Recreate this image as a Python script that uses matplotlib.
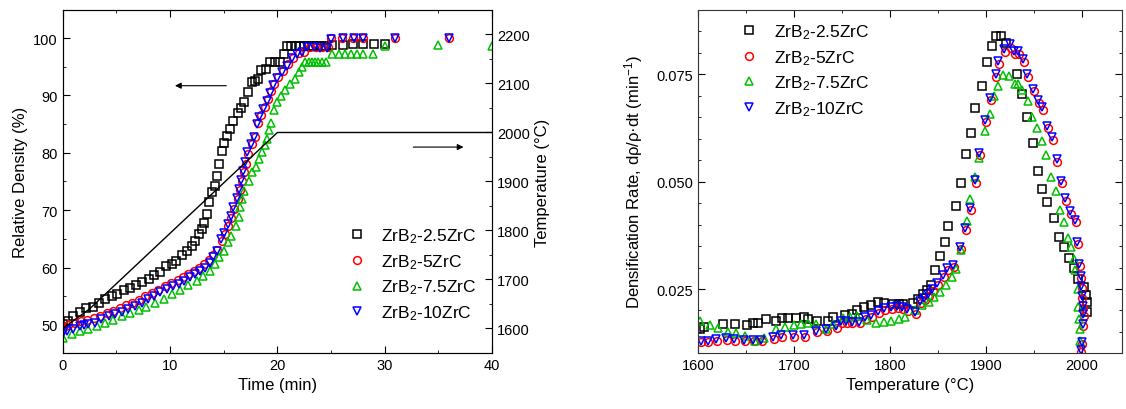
import numpy as np
import matplotlib
matplotlib.use("Agg")
import matplotlib.pyplot as plt
from matplotlib.ticker import MultipleLocator

plt.rcParams['font.family'] = ['Liberation Sans', 'DejaVu Sans']
plt.rcParams['mathtext.fontset'] = 'custom'
plt.rcParams['mathtext.rm'] = 'Liberation Sans'
plt.rcParams['mathtext.it'] = 'Liberation Sans:italic'

labels = ["ZrB$_2$-2.5ZrC", "ZrB$_2$-5ZrC", "ZrB$_2$-7.5ZrC", "ZrB$_2$-10ZrC"]
colors = ["#000000", "#ff0000", "#00c000", "#0000ff"]
markers = ["s", "o", "^", "v"]

# relative density (%) vs time (min)
t_25 = [0.0, 0.5, 1.0, 1.6, 2.2, 2.8, 3.4, 3.9, 4.6, 5.1, 5.7, 6.3, 6.8, 7.4, 8.0, 8.5, 9.1, 9.6, 10.2, 10.6,
        11.1, 11.6, 12.0, 12.3, 12.7, 13.0, 13.2, 13.4, 13.6, 13.9, 14.2, 14.4, 14.6, 14.8, 15.0, 15.3, 15.6, 15.9,
        16.3, 16.6, 16.9, 17.3, 17.6, 17.9, 18.2, 18.5, 18.9, 19.3, 19.8, 20.2, 20.6, 20.9, 21.3, 21.7, 22.1, 22.5,
        22.9, 23.3, 23.7, 24.1, 24.5, 25.1, 26.1, 27.0, 28.0, 29.0, 30.0]
d_25 = [50.1, 50.7, 51.6, 52.3, 52.9, 53.2, 53.8, 54.5, 55.0, 55.4, 56.0, 56.4, 57.0, 57.5, 58.0, 58.7, 59.2, 60.3, 60.6, 61.2,
        62.1, 62.9, 63.8, 64.7, 65.8, 66.7, 67.8, 69.3, 71.4, 73.1, 74.2, 76.0, 78.1, 80.3, 81.7, 82.9, 84.1, 85.6,
        86.9, 87.8, 88.8, 90.6, 92.3, 92.6, 92.9, 94.5, 94.6, 95.8, 95.8, 95.8, 97.3, 98.6, 98.6, 98.7, 98.7, 98.7,
        98.7, 98.7, 98.7, 98.7, 98.7, 98.8, 98.8, 98.9, 98.9, 98.9, 98.9]

t_5 = [0.0, 0.5, 1.1, 1.7, 2.3, 2.9, 3.5, 4.1, 4.7, 5.3, 5.9, 6.5, 7.1, 7.7, 8.3, 8.9, 9.5, 10.1, 10.7, 11.2,
       11.7, 12.2, 12.7, 13.2, 13.6, 14.0, 14.4, 14.8, 15.1, 15.4, 15.7, 16.0, 16.3, 16.5, 16.7, 16.9, 17.1, 17.3,
       17.6, 17.9, 18.2, 18.5, 18.8, 19.1, 19.4, 19.7, 20.1, 20.5, 21.0, 21.5, 22.0, 22.5, 23.0, 23.6, 24.2, 24.7,
       25.0, 26.0, 27.0, 28.0, 31.0, 36.0]
d_5 = [49.5, 49.9, 50.3, 50.6, 50.9, 51.2, 51.6, 52.1, 52.5, 52.9, 53.4, 53.9, 54.4, 55.0, 55.6, 56.1, 56.7, 57.3, 57.8, 58.3,
       58.8, 59.4, 60.0, 60.6, 61.3, 62.1, 63.1, 64.6, 65.9, 67.2, 68.6, 70.2, 71.9, 73.5, 75.0, 76.6, 78.1, 79.8,
       81.6, 82.8, 85.2, 86.6, 88.0, 89.4, 90.8, 92.0, 93.2, 94.3, 95.4, 96.6, 97.4, 97.6, 98.5, 98.5, 98.4, 98.4,
       100.0, 100.0, 100.0, 100.0, 100.1, 100.1]

t_75 = [0.0, 0.9, 1.6, 2.4, 3.2, 3.9, 4.7, 5.5, 6.3, 7.1, 7.8, 8.6, 9.4, 10.2, 10.9, 11.7, 12.5, 13.1, 13.7, 14.2,
        14.6, 15.0, 15.4, 15.7, 16.1, 16.4, 16.5, 16.7, 16.9, 17.4, 17.6, 18.0, 18.3, 18.6, 18.8, 19.0, 19.2, 19.4,
        19.7, 20.0, 20.3, 20.7, 21.2, 21.6, 22.0, 22.3, 22.6, 22.9, 23.2, 23.5, 23.8, 24.2, 24.5, 25.1, 25.7, 26.3,
        26.9, 27.4, 28.0, 28.9, 30.0, 35.0, 40.0]
d_75 = [47.8, 48.4, 49.0, 49.3, 49.8, 50.3, 50.9, 51.5, 52.1, 52.6, 53.2, 53.9, 54.6, 55.4, 56.1, 56.9, 57.7, 58.5, 59.4, 60.6,
        61.8, 62.9, 64.4, 65.5, 67.3, 68.8, 70.5, 72.0, 73.4, 75.1, 76.6, 77.5, 78.9, 80.1, 81.3, 82.4, 83.9, 85.2,
        87.5, 88.8, 89.9, 90.9, 92.0, 92.9, 94.1, 94.9, 95.8, 95.8, 95.8, 95.8, 95.8, 95.8, 95.8, 97.3, 97.3, 97.3,
        97.3, 97.3, 97.3, 97.3, 98.6, 98.8, 98.7]

t_10 = [0.0, 0.4, 1.0, 1.6, 2.0, 2.4, 3.0, 3.6, 4.3, 4.9, 5.5, 6.1, 6.7, 7.4, 7.9, 8.5, 9.1, 9.7, 10.3, 10.8,
        11.3, 11.9, 12.3, 12.8, 13.3, 13.7, 14.0, 14.4, 14.7, 15.0, 15.4, 15.7, 15.9, 16.2, 16.4, 16.6, 16.8, 17.0,
        17.2, 17.5, 17.8, 18.1, 18.3, 18.7, 19.0, 19.3, 19.6, 20.0, 20.4, 20.9, 21.4, 21.8, 22.3, 22.8, 23.4, 24.0,
        24.6, 25.0, 26.1, 27.1, 28.0, 31.0, 36.0]
d_10 = [48.6, 49.0, 49.3, 49.8, 50.0, 50.1, 50.4, 51.0, 51.6, 51.9, 52.2, 52.8, 53.3, 53.9, 54.5, 55.1, 55.7, 56.2, 56.7, 57.1,
        57.7, 58.3, 58.9, 59.4, 60.0, 60.8, 61.8, 62.9, 64.9, 66.1, 67.6, 68.9, 70.5, 72.1, 73.7, 75.3, 76.9, 78.4,
        80.1, 81.6, 82.7, 85.0, 86.2, 87.7, 89.1, 90.5, 91.8, 93.0, 94.1, 95.2, 96.5, 97.3, 97.5, 98.4, 98.4, 98.3,
        98.3, 99.9, 100.0, 100.0, 100.0, 100.1, 100.1]

# furnace temperature program
t_prog = [0, 2.5, 20, 40]
T_prog = [1600, 1640, 2000, 2000]

# densification rate vs temperature
T_25 = [1602, 1606, 1626, 1639, 1651, 1657, 1663, 1671, 1681, 1688, 1694, 1702, 1711, 1715, 1724, 1735, 1741, 1753,
        1760, 1766, 1773, 1780, 1788, 1794, 1803, 1809, 1814, 1824, 1829, 1835, 1839, 1843, 1847, 1852, 1857, 1861,
        1869, 1874, 1879, 1885, 1889, 1896, 1901, 1906, 1911, 1916, 1921, 1932, 1938, 1943, 1949, 1954, 1959, 1964,
        1971, 1976, 1981, 1987, 1992, 1996, 2002, 2004, 2005, 2005]
r_25 = [0.0157, 0.0162, 0.0169, 0.0169, 0.0166, 0.0172, 0.0172, 0.0180, 0.0176, 0.0182, 0.0182, 0.0182, 0.0186, 0.0180,
        0.0176, 0.0176, 0.0184, 0.0190, 0.0192, 0.0200, 0.0207, 0.0213, 0.0219, 0.0217, 0.0215, 0.0215, 0.0215, 0.0217,
        0.0227, 0.0238, 0.0248, 0.0259, 0.0295, 0.0328, 0.0359, 0.0397, 0.0444, 0.0497, 0.0564, 0.0614, 0.0672, 0.0724,
        0.0779, 0.0817, 0.0839, 0.0839, 0.0824, 0.0752, 0.0705, 0.0650, 0.0589, 0.0524, 0.0484, 0.0453, 0.0415, 0.0372,
        0.0347, 0.0323, 0.0298, 0.0273, 0.0254, 0.0237, 0.0219, 0.0196]

T_5 = [1603, 1610, 1620, 1630, 1639, 1649, 1658, 1667, 1679, 1688, 1700, 1712, 1724, 1734, 1745, 1750, 1755, 1761,
       1769, 1775, 1781, 1789, 1795, 1802, 1808, 1814, 1819, 1827, 1832, 1837, 1841, 1845, 1850, 1856, 1861, 1867,
       1874, 1879, 1885, 1890, 1894, 1900, 1905, 1911, 1914, 1920, 1926, 1930, 1935, 1940, 1944, 1950, 1955, 1960,
       1965, 1970, 1974, 1979, 1984, 1989, 1994, 1996, 1998, 1999, 2000, 2000, 2001, 2002, 2001, 2000, 1999]
r_5 = [0.0126, 0.0126, 0.0130, 0.0131, 0.0130, 0.0128, 0.0128, 0.0128, 0.0134, 0.0138, 0.0138, 0.0139, 0.0149, 0.0153,
       0.0159, 0.0172, 0.0172, 0.0170, 0.0170, 0.0180, 0.0186, 0.0194, 0.0201, 0.0203, 0.0206, 0.0203, 0.0199, 0.0192,
       0.0217, 0.0224, 0.0234, 0.0246, 0.0260, 0.0279, 0.0294, 0.0302, 0.0343, 0.0387, 0.0434, 0.0498, 0.0562, 0.0638,
       0.0690, 0.0745, 0.0775, 0.0802, 0.0812, 0.0798, 0.0798, 0.0780, 0.0744, 0.0711, 0.0684, 0.0668, 0.0624, 0.0598,
       0.0546, 0.0496, 0.0456, 0.0425, 0.0405, 0.0355, 0.0303, 0.0276, 0.0253, 0.0229, 0.0206, 0.0187, 0.0164, 0.0121,
       0.0103]

T_75 = [1602, 1612, 1621, 1631, 1640, 1649, 1659, 1669, 1681, 1691, 1700, 1707, 1715, 1723, 1733, 1741, 1751, 1758,
        1766, 1776, 1786, 1794, 1801, 1810, 1816, 1826, 1833, 1841, 1846, 1852, 1859, 1865, 1869, 1874, 1880, 1884,
        1889, 1893, 1899, 1904, 1908, 1913, 1918, 1924, 1930, 1934, 1938, 1944, 1948, 1953, 1959, 1963, 1968, 1973,
        1977, 1982, 1986, 1989, 1992, 1993, 1996, 1996, 1997, 1998, 1998]
r_75 = [0.0176, 0.0166, 0.0160, 0.0151, 0.0148, 0.0140, 0.0130, 0.0135, 0.0157, 0.0161, 0.0166, 0.0169, 0.0172, 0.0169,
        0.0157, 0.0169, 0.0182, 0.0184, 0.0188, 0.0179, 0.0172, 0.0174, 0.0176, 0.0180, 0.0184, 0.0202, 0.0213, 0.0219,
        0.0231, 0.0242, 0.0259, 0.0279, 0.0297, 0.0341, 0.0409, 0.0459, 0.0510, 0.0556, 0.0618, 0.0657, 0.0700, 0.0724,
        0.0748, 0.0746, 0.0727, 0.0727, 0.0714, 0.0688, 0.0650, 0.0626, 0.0595, 0.0562, 0.0510, 0.0479, 0.0435, 0.0407,
        0.0368, 0.0347, 0.0320, 0.0295, 0.0250, 0.0207, 0.0180, 0.0157, 0.0130]

T_10 = [1603, 1610, 1619, 1629, 1638, 1648, 1657, 1666, 1678, 1687, 1699, 1711, 1723, 1733, 1744, 1749, 1754, 1760,
        1768, 1774, 1780, 1788, 1794, 1801, 1807, 1813, 1818, 1826, 1831, 1836, 1840, 1844, 1849, 1855, 1860, 1866,
        1873, 1878, 1884, 1889, 1893, 1899, 1904, 1911, 1913, 1919, 1925, 1929, 1934, 1939, 1943, 1949, 1954, 1959,
        1964, 1969, 1974, 1978, 1983, 1988, 1993, 1995, 1997, 1999, 1999, 2000, 2001, 2001, 2001, 2000, 1999]
r_10 = [0.0130, 0.0130, 0.0134, 0.0135, 0.0134, 0.0132, 0.0132, 0.0132, 0.0138, 0.0142, 0.0142, 0.0143, 0.0153, 0.0157,
        0.0163, 0.0176, 0.0176, 0.0174, 0.0174, 0.0184, 0.0190, 0.0198, 0.0205, 0.0207, 0.0210, 0.0207, 0.0203, 0.0196,
        0.0221, 0.0228, 0.0238, 0.0250, 0.0264, 0.0283, 0.0298, 0.0306, 0.0347, 0.0391, 0.0438, 0.0503, 0.0568, 0.0644,
        0.0696, 0.0752, 0.0781, 0.0808, 0.0820, 0.0804, 0.0804, 0.0786, 0.0750, 0.0717, 0.0690, 0.0674, 0.0630, 0.0605,
        0.0552, 0.0502, 0.0462, 0.0431, 0.0411, 0.0360, 0.0308, 0.0281, 0.0258, 0.0234, 0.0211, 0.0192, 0.0169, 0.0126,
        0.0107]

dens_t = [t_25, t_5, t_75, t_10]
dens_d = [d_25, d_5, d_75, d_10]
rate_T = [T_25, T_5, T_75, T_10]
rate_r = [r_25, r_5, r_75, r_10]

fig = plt.figure(figsize=(11.26, 4.10), dpi=100)
ax = fig.add_axes([0.0557, 0.1366, 0.3813, 0.8366])
ax2 = ax.twinx()
bx = fig.add_axes([0.6199, 0.1366, 0.3766, 0.8366])

mk = dict(markersize=5.6, markerfacecolor='none', markeredgewidth=1.1, linestyle='none')

handles = []
for i in range(4):
    h, = ax.plot(dens_t[i], dens_d[i], marker=markers[i], color=colors[i], label=labels[i], **mk)
    handles.append(h)
    bx.plot(rate_T[i], rate_r[i], marker=markers[i], color=colors[i], label=labels[i], **mk)

ax2.plot(t_prog, T_prog, color='black', lw=1.0)

ax.set_xlim(0, 40)
ax.set_ylim(45.1, 104.9)
ax2.set_ylim(1550, 2250)
ax.xaxis.set_major_locator(MultipleLocator(10))
ax.xaxis.set_minor_locator(MultipleLocator(5))
ax.yaxis.set_major_locator(MultipleLocator(10))
ax.yaxis.set_minor_locator(MultipleLocator(5))
ax2.yaxis.set_major_locator(MultipleLocator(100))
ax2.yaxis.set_minor_locator(MultipleLocator(50))

ax.set_xlabel("Time (min)", fontsize=12)
ax.set_ylabel("Relative Density (%)", fontsize=12)
ax2.set_ylabel("Temperature (°C)", fontsize=12)

ax.annotate("", xy=(10.2, 91.7), xytext=(15.5, 91.7),
            arrowprops=dict(arrowstyle='-|>', color='black', lw=0.8, mutation_scale=9))
ax.annotate("", xy=(37.6, 81.0), xytext=(32.4, 81.0),
            arrowprops=dict(arrowstyle='-|>', color='black', lw=0.8, mutation_scale=9))

ax2.legend(handles, labels, loc='lower right', bbox_to_anchor=(1.0, 0.045), frameon=False,
           fontsize=12.5, handletextpad=0.8, labelspacing=0.4, handlelength=1.2)

bx.set_xlim(1600, 2042)
bx.set_ylim(0.0101, 0.0900)
bx.xaxis.set_major_locator(MultipleLocator(100))
bx.xaxis.set_minor_locator(MultipleLocator(50))
bx.yaxis.set_major_locator(MultipleLocator(0.025))
bx.yaxis.set_minor_locator(MultipleLocator(0.005))
bx.yaxis.set_major_formatter(plt.FormatStrFormatter('%.3f'))
bx.set_xlabel("Temperature (°C)", fontsize=12)
bx.set_ylabel("Densification Rate, dρ/ρ·dt (min$^{-1}$)", fontsize=12, labelpad=8)
bx.legend(loc='upper left', bbox_to_anchor=(0.06, 1.01), frameon=False, fontsize=12.5,
          handletextpad=0.8, labelspacing=0.4, handlelength=1.2)

for a in (ax, bx):
    a.tick_params(which='both', direction='in', top=True, labelsize=10.5)
    a.tick_params(which='major', length=5)
    a.tick_params(which='minor', length=2.5)
    for s in a.spines.values():
        s.set_color('#333333')
bx.tick_params(which='both', right=True)
ax.tick_params(which='both', right=False)
ax2.tick_params(which='both', direction='in', labelsize=10.5)
ax2.tick_params(which='major', length=5)
ax2.tick_params(which='minor', length=2.5)

fig.savefig("out.png", dpi=100)
